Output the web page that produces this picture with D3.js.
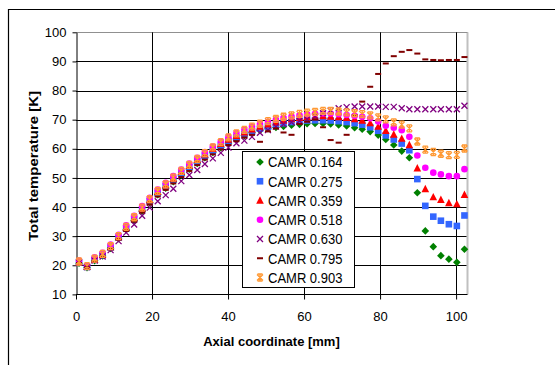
<!DOCTYPE html>
<html>
<head>
<meta charset="utf-8">
<script src="https://cdn.jsdelivr.net/npm/d3@7"></script>
<style>
  body { margin: 0; background: #fff; }
  svg { display: block; }
  text { font-family: "Liberation Sans", Arial, sans-serif; fill: #000; }
</style>
</head>
<body>
<svg id="chart" width="555" height="365"></svg>
<script>
// axial positions [mm]
const axial = [0.8, 2.9, 4.9, 7.0, 9.1, 11.2, 13.2, 15.3, 17.4, 19.4,
  21.5, 23.6, 25.6, 27.7, 29.8, 31.9, 33.9, 36.0, 38.1, 40.1,
  42.2, 44.3, 46.3, 48.4, 50.5, 52.6, 54.6, 56.7, 58.8, 60.8,
  62.9, 65.0, 67.0, 69.1, 71.2, 73.3, 75.3, 77.4, 79.5, 81.5,
  83.6, 85.7, 87.7, 89.8, 91.9, 94.0, 96.0, 98.1, 100.2, 102.2];

// total temperature [K] per CAMR
const camr164 = [20.7, 19.2, 21.6, 23.2, 25.8, 29.1, 32.2, 35.4, 38.6, 41.5,
  44.2, 46.5, 48.7, 50.9, 53.0, 55.0, 56.9, 58.7, 60.4, 61.9,
  63.3, 64.5, 65.5, 66.3, 66.9, 67.3, 67.7, 68.1, 68.4, 68.6,
  68.7, 68.7, 68.5, 68.2, 67.8, 67.2, 66.7, 65.9, 64.7, 63.2,
  61.3, 59.2, 56.9, 44.9, 31.8, 26.4, 23.3, 22.1, 21.0, 25.5];
const camr275 = [20.9, 19.4, 21.9, 23.5, 26.1, 29.5, 32.6, 35.9, 39.1, 42.0,
  44.8, 47.1, 49.4, 51.6, 53.7, 55.7, 57.6, 59.4, 61.1, 62.6,
  63.9, 65.0, 66.0, 66.9, 67.6, 68.3, 68.8, 69.2, 69.5, 69.7,
  69.8, 69.8, 69.7, 69.5, 69.2, 68.8, 68.3, 67.4, 66.2, 64.6,
  63.2, 61.8, 59.5, 49.6, 40.4, 36.7, 35.3, 34.1, 33.5, 37.1];
const camr359 = [21.0, 19.5, 22.0, 23.6, 26.3, 29.7, 32.9, 36.2, 39.5, 42.4,
  45.2, 47.5, 49.8, 52.1, 54.2, 56.2, 58.1, 60.0, 61.7, 63.2,
  64.5, 65.7, 66.7, 67.6, 68.4, 69.1, 69.7, 70.2, 70.6, 70.9,
  71.1, 71.2, 71.1, 70.9, 70.6, 70.2, 69.7, 68.8, 67.6, 66.2,
  64.9, 63.5, 61.3, 53.3, 46.2, 43.4, 42.5, 41.4, 41.0, 44.2];
const camr518 = [21.6, 19.9, 22.7, 24.3, 27.1, 30.5, 33.7, 37.0, 40.3, 43.2,
  46.0, 48.3, 50.6, 52.9, 54.9, 56.9, 58.9, 60.8, 62.5, 64.0,
  65.4, 66.5, 67.6, 68.5, 69.3, 70.0, 70.6, 71.1, 71.5, 71.8,
  72.0, 72.1, 72.1, 71.9, 71.6, 71.3, 71.0, 70.5, 69.4, 67.9,
  67.2, 66.4, 64.1, 57.7, 53.5, 51.8, 51.2, 50.6, 50.6, 53.0];
const camr630 = [21.0, 19.4, 21.6, 23.0, 25.2, 28.3, 31.2, 34.0, 37.0, 39.8,
  42.0, 44.1, 46.3, 48.9, 51.0, 52.7, 54.8, 56.7, 58.6, 60.4,
  61.9, 62.8, 64.1, 65.5, 66.4, 67.6, 68.4, 69.1, 69.6, 70.1,
  71.1, 72.2, 73.1, 73.9, 74.3, 74.5, 74.5, 74.5, 74.5, 74.4,
  74.4, 73.9, 73.6, 73.6, 73.6, 73.6, 73.6, 73.6, 73.6, 74.8];
const camr795 = [20.8, 19.3, 21.5, 23.0, 25.5, 28.8, 31.8, 35.0, 38.1, 40.9,
  43.6, 45.9, 48.1, 50.3, 52.4, 54.4, 56.3, 58.1, 59.8, 61.3,
  62.6, 63.9, 64.8, 62.4, 66.0, 67.0, 65.6, 64.8, 68.5, 69.3,
  70.0, 67.4, 63.0, 62.1, 64.8, 71.5, 76.2, 81.3, 85.7, 89.3,
  91.8, 93.3, 93.9, 92.7, 90.7, 90.5, 90.4, 90.5, 90.5, 91.5];
const camr903 = [21.3, 19.7, 22.3, 23.9, 26.6, 30.0, 33.2, 36.5, 39.8, 42.7,
  45.5, 47.8, 50.1, 52.4, 54.5, 56.5, 58.5, 60.5, 62.3, 63.9,
  65.3, 66.5, 67.6, 68.6, 69.5, 70.3, 71.0, 71.5, 72.0, 72.4,
  72.7, 73.0, 73.0, 72.8, 72.5, 72.2, 71.9, 71.5, 70.8, 70.1,
  69.1, 68.3, 67.0, 62.5, 59.7, 58.9, 58.3, 57.8, 57.9, 60.1];

const seriesNames = ["CAMR 0.164", "CAMR 0.275", "CAMR 0.359", "CAMR 0.518",
  "CAMR 0.630", "CAMR 0.795", "CAMR 0.903"];
const seriesValues = [camr164, camr275, camr359, camr518, camr630, camr795, camr903];

const xTicks = [0, 20, 40, 60, 80, 100];
const yTicks = [10, 20, 30, 40, 50, 60, 70, 80, 90, 100];

const colors = ["#008000", "#3366ff", "#ff0000", "#ff00ff", "#800080", "#800000", "#ff9933"];
const shapes = ["diamond", "square", "triangle", "circle", "cross", "dash", "star"];

const svg = d3.select("#chart");

// outer chart frame (cut off at right/bottom)
svg.append("path")
  .attr("d", "M8.5,365 V9.5 H555")
  .attr("fill", "none")
  .attr("stroke", "#000")
  .attr("stroke-width", 1.2);

const plotL = 76, plotR = 467.5, plotT = 32.3, plotB = 294.4;

const x = d3.scaleLinear().domain([0, 103]).range([plotL, plotR]);
const y = d3.scaleLinear().domain([10, 100]).range([plotB, plotT]);

// plot area border
svg.append("line")
  .attr("x1", plotR).attr("x2", plotR)
  .attr("y1", plotT).attr("y2", plotB)
  .attr("stroke", "#c0c0c0").attr("stroke-width", 2);
svg.append("line")
  .attr("x1", plotL).attr("x2", plotR)
  .attr("y1", Math.round(plotT) + 0.5).attr("y2", Math.round(plotT) + 0.5)
  .attr("stroke", "#909090").attr("stroke-width", 1);

// gridlines
svg.append("g")
  .selectAll("line")
  .data(yTicks.filter(d => d > 10 && d < 100))
  .join("line")
  .attr("x1", plotL).attr("x2", plotR - 1)
  .attr("y1", d => Math.round(y(d)) + 0.5)
  .attr("y2", d => Math.round(y(d)) + 0.5)
  .attr("stroke", "#000");

svg.append("g")
  .selectAll("line")
  .data(xTicks.filter(d => d > 0))
  .join("line")
  .attr("x1", d => Math.round(x(d)) + 0.5)
  .attr("x2", d => Math.round(x(d)) + 0.5)
  .attr("y1", plotT).attr("y2", plotB)
  .attr("stroke", "#000");

// axes
const yAxis = svg.append("g")
  .attr("transform", "translate(" + (plotL + 0.5) + ",0)")
  .call(d3.axisLeft(y).tickValues(yTicks).tickSize(4).tickPadding(6).tickSizeOuter(0));
const xAxis = svg.append("g")
  .attr("transform", "translate(0," + (Math.round(plotB) + 0.5) + ")")
  .call(d3.axisBottom(x).tickValues(xTicks).tickSize(5).tickPadding(12).tickSizeOuter(0));

[yAxis, xAxis].forEach(a => {
  a.select(".domain").attr("stroke", "#000");
  a.selectAll(".tick line").attr("stroke", "#000");
  a.selectAll(".tick text")
    .style("font-size", "13px")
    .attr("fill", "#000");
});
xAxis.select(".domain").attr("d", "M" + plotL + ",0H" + plotR);

// axis titles
svg.append("text")
  .attr("x", 271.5)
  .attr("y", 346)
  .attr("text-anchor", "middle")
  .style("font-size", "13px")
  .style("font-weight", "bold")
  .text("Axial coordinate [mm]");

svg.append("text")
  .attr("transform", "translate(38.3,166) rotate(-90) scale(1.15,1)")
  .attr("text-anchor", "middle")
  .style("font-size", "13px")
  .style("font-weight", "bold")
  .text("Total temperature [K]");

// marker drawing
function drawMarker(sel, shape, color) {
  if (shape === "diamond") {
    sel.append("path").attr("d", "M0,-3.8L3.8,0L0,3.8L-3.8,0Z").attr("fill", color);
  } else if (shape === "square") {
    sel.append("rect").attr("x", -3.3).attr("y", -3.3).attr("width", 6.6).attr("height", 6.6).attr("fill", color);
  } else if (shape === "triangle") {
    sel.append("path").attr("d", "M0,-4.2L3.8,3.2L-3.8,3.2Z").attr("fill", color);
  } else if (shape === "circle") {
    sel.append("circle").attr("r", 3.3).attr("fill", color);
  } else if (shape === "cross") {
    sel.append("path").attr("d", "M-3,-3L3,3M3,-3L-3,3")
      .attr("stroke", color).attr("stroke-width", 1.3).attr("fill", "none");
  } else if (shape === "dash") {
    sel.append("rect").attr("x", -3).attr("y", -1).attr("width", 6).attr("height", 2).attr("fill", color);
  } else if (shape === "star") {
    sel.append("path").attr("d", "M-3,-3L3,3M3,-3L-3,3M0,-3.5V3.5M-2.5,-3.5H2.5M-2.5,3.5H2.5")
      .attr("stroke", color).attr("stroke-width", 1.3).attr("fill", "none");
  }
}

// series
seriesValues.forEach((vals, si) => {
  const g = svg.append("g");
  vals.forEach((v, i) => {
    const m = g.append("g")
      .attr("transform", "translate(" + x(axial[i]) + "," + y(v) + ")");
    drawMarker(m, shapes[si], colors[si]);
  });
});

// legend
const legend = svg.append("g");
legend.append("rect")
  .attr("x", 242.5).attr("y", 151.5)
  .attr("width", 112).attr("height", 136)
  .attr("fill", "#fff")
  .attr("stroke", "#000");

seriesNames.forEach((name, i) => {
  const cy = 162 + i * 19.25;
  const m = legend.append("g").attr("transform", "translate(260," + cy + ")");
  drawMarker(m, shapes[i], colors[i]);
  legend.append("text")
    .attr("transform", "translate(268," + (cy + 5.3) + ") scale(1,1.12)")
    .style("font-size", "13px")
    .text(name);
});
</script>
</body>
</html>
